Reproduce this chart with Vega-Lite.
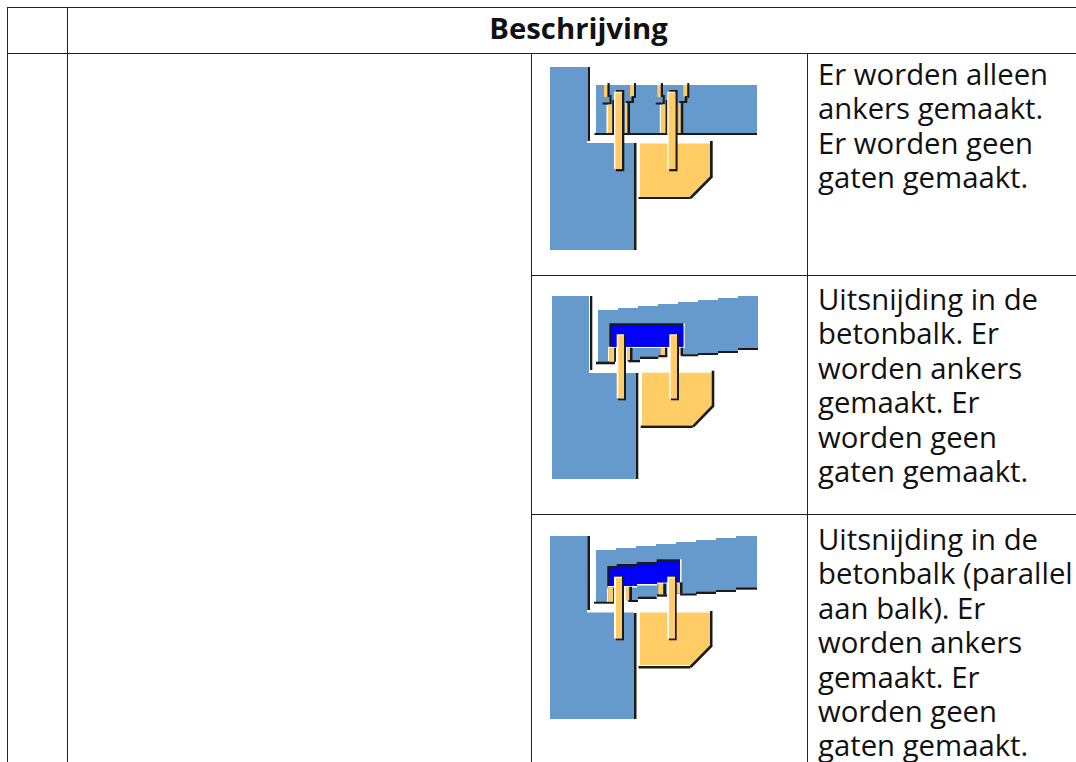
{"$schema":"https://vega.github.io/schema/vega-lite/v6.json","width":1076,"height":762,"padding":0,"autosize":"none","background":"white","config":{"view":{"stroke":null}},
"datasets":{
"parts":[
{"k":"rule","a":7,"b":8,"c":8,"d":762},{"k":"rule","a":67,"b":68,"c":8,"d":762},{"k":"rule","a":531,"b":532,"c":53,"d":762},{"k":"rule","a":807,"b":808,"c":53,"d":762},
{"k":"rule","a":7,"b":1076,"c":7,"d":8},{"k":"rule","a":7,"b":1076,"c":53,"d":54},{"k":"rule","a":531,"b":1076,"c":275,"d":276},{"k":"rule","a":531,"b":1076,"c":514,"d":515},

{"k":"blue","a":550,"b":587,"c":67,"d":144},{"k":"blue","a":550,"b":634,"c":143,"d":250},{"k":"black","a":587.5,"b":590,"c":67,"d":141},{"k":"black","a":634,"b":636.5,"c":143,"d":250},
{"k":"blue","a":596,"b":757,"c":85,"d":133},{"k":"black","a":594.5,"b":757,"c":133,"d":135},
{"k":"orange","a":640,"b":691,"c":143.5,"d":197},{"k":"orange","a":690,"b":710,"c":143.5,"d":177},{"k":"black","a":710,"b":712.7,"c":141,"d":178},{"k":"black","a":638.5,"b":690.5,"c":197,"d":199},
{"k":"orange","a":604,"b":607.5,"c":85,"d":97},{"k":"black","a":607.5,"b":609.7,"c":83,"d":97},{"k":"black","a":609.5,"b":611.5,"c":95,"d":104},{"k":"black","a":602.5,"b":610,"c":102.5,"d":104.5},{"k":"white","a":606.5,"b":608,"c":105,"d":133},{"k":"orange","a":608,"b":612.3,"c":104.5,"d":133},{"k":"black","a":612.3,"b":614,"c":100,"d":133},
{"k":"orange","a":630,"b":634,"c":85,"d":97},{"k":"black","a":634,"b":636,"c":83,"d":98},{"k":"black","a":631.5,"b":634,"c":96,"d":103},{"k":"black","a":626,"b":632,"c":101,"d":103},{"k":"orange","a":625,"b":627.5,"c":103,"d":133},{"k":"black","a":627.5,"b":630,"c":102,"d":133},
{"k":"orange","a":657.3,"b":660.8,"c":85,"d":97},{"k":"black","a":660.8,"b":663,"c":83,"d":97},{"k":"black","a":662.8,"b":664.8,"c":95,"d":104},{"k":"black","a":655.8,"b":663.3,"c":102.5,"d":104.5},{"k":"white","a":659.8,"b":661.3,"c":105,"d":133},{"k":"orange","a":661.3,"b":665.6,"c":104.5,"d":133},{"k":"black","a":665.6,"b":667.3,"c":100,"d":133},
{"k":"orange","a":683.3,"b":687.3,"c":85,"d":97},{"k":"black","a":687.3,"b":689.3,"c":83,"d":98},{"k":"black","a":684.8,"b":687.3,"c":96,"d":103},{"k":"black","a":679.3,"b":685.3,"c":101,"d":103},{"k":"orange","a":678.3,"b":680.8,"c":103,"d":133},{"k":"black","a":680.8,"b":683.3,"c":102,"d":133},
{"k":"black","a":616,"b":624.3,"c":90,"d":171.3},{"k":"white","a":614,"b":622,"c":91.7,"d":169},{"k":"orange","a":615.3,"b":622,"c":92.7,"d":169},
{"k":"black","a":669.3,"b":677.6,"c":90,"d":171.3},{"k":"white","a":667.3,"b":675.3,"c":91.7,"d":169},{"k":"orange","a":668.6,"b":675.3,"c":92.7,"d":169},

{"k":"blue","a":552,"b":589,"c":296,"d":374},{"k":"blue","a":552,"b":636,"c":373,"d":479},{"k":"black","a":590,"b":592.3,"c":296,"d":370},{"k":"black","a":636,"b":638.3,"c":373,"d":479},
{"k":"blue","a":598,"b":618,"c":310,"d":347},{"k":"blue","a":598,"b":615,"c":346,"d":362},{"k":"blue","a":618,"b":638,"c":308,"d":347},{"k":"blue","a":627,"b":640,"c":346,"d":361},{"k":"blue","a":638,"b":658,"c":306,"d":347},{"k":"blue","a":640,"b":658,"c":346,"d":357},{"k":"blue","a":658,"b":678,"c":304,"d":347},{"k":"blue","a":658,"b":667,"c":346,"d":355},{"k":"blue","a":678,"b":698,"c":302,"d":355},{"k":"blue","a":698,"b":718,"c":300,"d":353},{"k":"blue","a":718,"b":738,"c":298,"d":351},{"k":"blue","a":738,"b":758,"c":296,"d":348},
{"k":"white","a":608,"b":684.7,"c":346.7,"d":348},{"k":"white","a":683.3,"b":684.7,"c":323.3,"d":348},{"k":"black","a":609.3,"b":683.3,"c":323.3,"d":346.7},{"k":"pocket","a":611.7,"b":683.3,"c":325.7,"d":346.7},
{"k":"black","a":596,"b":615,"c":361.7,"d":364.3},{"k":"black","a":628.3,"b":640,"c":360,"d":362.3},{"k":"black","a":640,"b":658.3,"c":356.7,"d":359},{"k":"black","a":658.3,"b":667.3,"c":355,"d":357.3},{"k":"black","a":680.7,"b":698.3,"c":354.3,"d":356.3},{"k":"black","a":698,"b":718,"c":353,"d":355},{"k":"black","a":718,"b":738,"c":351,"d":353},{"k":"black","a":738,"b":758,"c":348,"d":350},
{"k":"white","a":608,"b":609.3,"c":348,"d":361},{"k":"orange","a":609.3,"b":614,"c":348,"d":361.7},{"k":"black","a":614.3,"b":616,"c":347.7,"d":361.7},
{"k":"white","a":625.7,"b":627.3,"c":348,"d":360},{"k":"orange","a":627.3,"b":630,"c":348,"d":360},{"k":"black","a":630,"b":632.5,"c":347.7,"d":361},
{"k":"orange","a":660.7,"b":665,"c":348,"d":355},{"k":"black","a":665,"b":667.3,"c":347.7,"d":356},
{"k":"orange","a":678.3,"b":680.7,"c":348,"d":355},{"k":"black","a":680.7,"b":683,"c":347.7,"d":355},
{"k":"orange","a":642,"b":693.5,"c":372.7,"d":425},{"k":"orange","a":692.7,"b":711.7,"c":372.7,"d":406.5},{"k":"black","a":711.7,"b":714.3,"c":370.7,"d":407},{"k":"black","a":640.7,"b":692.7,"c":425.5,"d":428},
{"k":"black","a":618,"b":626,"c":334,"d":400.3},{"k":"white","a":616.7,"b":624,"c":334.3,"d":398.3},{"k":"orange","a":618.3,"b":624,"c":335.3,"d":398.3},
{"k":"black","a":671,"b":679,"c":334,"d":400.3},{"k":"white","a":669.3,"b":677,"c":334.3,"d":398.3},{"k":"orange","a":670.7,"b":677,"c":335.3,"d":398.3},

{"k":"blue","a":550,"b":587,"c":536,"d":614},{"k":"blue","a":550,"b":634,"c":612.5,"d":719},{"k":"black","a":587.3,"b":590,"c":536,"d":610},{"k":"black","a":634,"b":636.5,"c":613,"d":719},
{"k":"blue","a":596,"b":616,"c":550,"d":586},{"k":"blue","a":596,"b":615,"c":585,"d":602},{"k":"blue","a":616,"b":636,"c":548,"d":586},{"k":"blue","a":626,"b":638,"c":585,"d":600.5},{"k":"blue","a":636,"b":656,"c":546,"d":585},{"k":"blue","a":638,"b":656,"c":584,"d":597},{"k":"blue","a":656,"b":676,"c":544,"d":584},{"k":"blue","a":656,"b":667,"c":583,"d":595},{"k":"blue","a":676,"b":696,"c":542,"d":594},{"k":"blue","a":696,"b":716,"c":540,"d":592},{"k":"blue","a":716,"b":736,"c":538,"d":590},{"k":"blue","a":736,"b":757,"c":536,"d":588},
{"k":"white","a":608,"b":637,"c":586,"d":587.5},{"k":"white","a":636.7,"b":657,"c":584,"d":585.5},{"k":"white","a":656.7,"b":681.5,"c":582.3,"d":583.8},{"k":"white","a":680,"b":681.5,"c":559.3,"d":583.8},
{"k":"black","a":607.3,"b":617,"c":566,"d":586},{"k":"black","a":616.7,"b":637,"c":564,"d":586},{"k":"black","a":636.7,"b":657,"c":562,"d":584},{"k":"black","a":656.7,"b":680,"c":559.3,"d":582.3},
{"k":"pocket","a":610,"b":617,"c":568.5,"d":586},{"k":"pocket","a":616.7,"b":637,"c":566.5,"d":586},{"k":"pocket","a":636.7,"b":657,"c":564.5,"d":584},{"k":"pocket","a":656.7,"b":680,"c":561.8,"d":582.3},
{"k":"black","a":594,"b":615,"c":601.7,"d":603.7},{"k":"black","a":628.3,"b":638,"c":600,"d":602},{"k":"black","a":638,"b":656.7,"c":596.7,"d":599},{"k":"black","a":656.7,"b":667.3,"c":594.3,"d":596.7},{"k":"black","a":680,"b":696.7,"c":593.5,"d":595.5},{"k":"black","a":696,"b":716,"c":591.7,"d":594},{"k":"black","a":716,"b":736,"c":590,"d":592},{"k":"black","a":736,"b":757,"c":587.5,"d":589.7},
{"k":"white","a":607,"b":608.3,"c":588.3,"d":601.7},{"k":"orange","a":608.3,"b":613.3,"c":588,"d":601.7},{"k":"black","a":613.3,"b":615.7,"c":587.5,"d":601.7},
{"k":"white","a":624.3,"b":625.7,"c":587,"d":600},{"k":"orange","a":625.7,"b":629.3,"c":587,"d":600},{"k":"black","a":629.3,"b":632,"c":586.7,"d":600.7},
{"k":"orange","a":658.3,"b":663.3,"c":584,"d":594.3},{"k":"black","a":663.3,"b":666,"c":583.5,"d":594.3},
{"k":"orange","a":677.3,"b":680,"c":583,"d":593.3},{"k":"black","a":680,"b":682.5,"c":582.3,"d":593.5},
{"k":"orange","a":640,"b":691,"c":612.5,"d":665},{"k":"orange","a":690,"b":710,"c":612.5,"d":647},{"k":"black","a":710,"b":712.5,"c":611,"d":647},{"k":"black","a":638.5,"b":690.5,"c":666,"d":668.5},
{"k":"black","a":616,"b":624,"c":576,"d":640.3},{"k":"white","a":614,"b":622,"c":576.7,"d":638.3},{"k":"orange","a":616,"b":622,"c":577.7,"d":638.3},
{"k":"black","a":669,"b":676.7,"c":576,"d":640.3},{"k":"white","a":667.3,"b":675,"c":576.7,"d":638.3},{"k":"orange","a":669,"b":675,"c":577.7,"d":638.3}
],
"chamfers":[
{"s":"p1","x":690,"y":177,"y2":197},{"s":"p1","x":710,"y":177,"y2":177},
{"s":"p2","x":692.7,"y":405.7,"y2":425},{"s":"p2","x":711.7,"y":405.7,"y2":405.7},
{"s":"p3","x":690,"y":646,"y2":665},{"s":"p3","x":710,"y":646,"y2":646}
],
"edges":[
{"s":"p1","x":690.5,"y":198},{"s":"p1","x":711.3,"y":177},
{"s":"p2","x":693,"y":426.7},{"s":"p2","x":713,"y":406},
{"s":"p3","x":690.5,"y":667},{"s":"p3","x":711.2,"y":646}
],
"labels":[
{"t":"Er worden alleen","x":818,"y":85},{"t":"ankers gemaakt.","x":818,"y":119},{"t":"Er worden geen","x":818,"y":154},{"t":"gaten gemaakt.","x":818,"y":188},
{"t":"Uitsnijding in de","x":818,"y":310},{"t":"betonbalk. Er","x":818,"y":344},{"t":"worden ankers","x":818,"y":379},{"t":"gemaakt. Er","x":818,"y":413},{"t":"worden geen","x":818,"y":448},{"t":"gaten gemaakt.","x":818,"y":482},
{"t":"Uitsnijding in de","x":818,"y":550},{"t":"betonbalk (parallel","x":818,"y":584},{"t":"aan balk). Er","x":818,"y":619},{"t":"worden ankers","x":818,"y":653},{"t":"gemaakt. Er","x":818,"y":688},{"t":"worden geen","x":818,"y":722},{"t":"gaten gemaakt.","x":818,"y":756}
]
},
"layer":[
{"data":{"name":"parts"},"mark":{"type":"rect"},"encoding":{
"x":{"field":"a","type":"quantitative","scale":{"domain":[0,1076],"nice":false,"zero":false},"axis":null},"x2":{"field":"b"},
"y":{"field":"c","type":"quantitative","scale":{"domain":[762,0],"nice":false,"zero":false},"axis":null},"y2":{"field":"d"},
"color":{"field":"k","type":"nominal","legend":null,"scale":{"domain":["rule","blue","orange","black","white","pocket"],"range":["#222222","#6699cc","#ffcc66","#1a1a1a","#ffffff","#0000ff"]}}}},
{"data":{"name":"chamfers"},"mark":{"type":"area","color":"#ffcc66"},"encoding":{
"x":{"field":"x","type":"quantitative","scale":{"domain":[0,1076],"nice":false,"zero":false},"axis":null},
"y":{"field":"y","type":"quantitative","scale":{"domain":[762,0],"nice":false,"zero":false},"axis":null},"y2":{"field":"y2"},"detail":{"field":"s"}}},
{"data":{"name":"edges"},"mark":{"type":"line","color":"#1a1a1a","strokeWidth":2.6},"encoding":{
"x":{"field":"x","type":"quantitative","scale":{"domain":[0,1076],"nice":false,"zero":false},"axis":null},
"y":{"field":"y","type":"quantitative","scale":{"domain":[762,0],"nice":false,"zero":false},"axis":null},"detail":{"field":"s"}}},
{"data":{"name":"labels"},"mark":{"type":"text","align":"left","baseline":"alphabetic","font":"Open Sans","fontSize":29.3,"color":"#111111"},"encoding":{
"x":{"field":"x","type":"quantitative","scale":{"domain":[0,1076],"nice":false,"zero":false},"axis":null},
"y":{"field":"y","type":"quantitative","scale":{"domain":[762,0],"nice":false,"zero":false},"axis":null},"text":{"field":"t"}}},
{"data":{"values":[{"t":"Beschrijving","x":578.5,"y":39}]},"mark":{"type":"text","align":"center","baseline":"alphabetic","font":"Open Sans","fontSize":29.3,"fontWeight":"bold","color":"#111111"},"encoding":{
"x":{"field":"x","type":"quantitative","scale":{"domain":[0,1076],"nice":false,"zero":false},"axis":null},
"y":{"field":"y","type":"quantitative","scale":{"domain":[762,0],"nice":false,"zero":false},"axis":null},"text":{"field":"t"}}}
]}
